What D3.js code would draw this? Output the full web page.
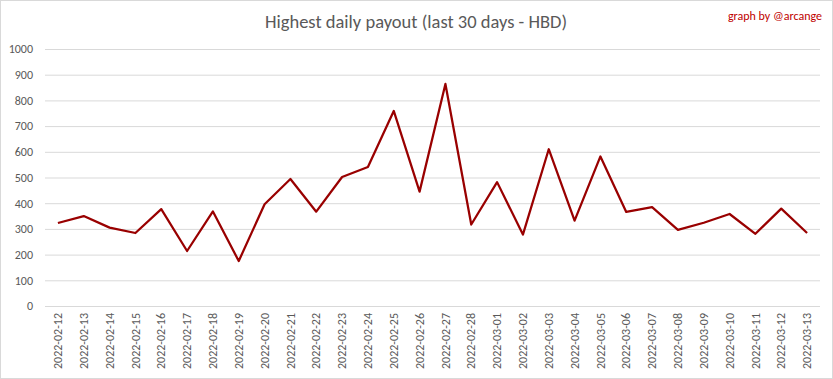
<!DOCTYPE html>
<html><head><meta charset="utf-8">
<script src="https://cdn.jsdelivr.net/npm/d3@7"></script>
<style>body{margin:0;background:#fff;} svg{display:block;}</style>
</head><body>
<script>
const dates = ["2022-02-12","2022-02-13","2022-02-14","2022-02-15","2022-02-16","2022-02-17","2022-02-18","2022-02-19","2022-02-20","2022-02-21","2022-02-22","2022-02-23","2022-02-24","2022-02-25","2022-02-26","2022-02-27","2022-02-28","2022-03-01","2022-03-02","2022-03-03","2022-03-04","2022-03-05","2022-03-06","2022-03-07","2022-03-08","2022-03-09","2022-03-10","2022-03-11","2022-03-12","2022-03-13"];
const payouts = [323,350,305,284,377,214,368,175,396,494,367,502,541,759,445,864,317,482,278,610,332,582,366,385,296,324,358,281,379,284];
const yTicks = [0,100,200,300,400,500,600,700,800,900,1000];

const W = 833, H = 379;
const svg = d3.select("body").append("svg").attr("width", W).attr("height", H);
svg.append("rect").attr("x",0.5).attr("y",0.5).attr("width",W-1).attr("height",H-1)
  .attr("fill","#fff").attr("stroke","#d9d9d9");

const x = d3.scaleBand().domain(dates).range([45, 820]);
const y = d3.scaleLinear().domain([0,1000]).range([306, 49]);
const font = "Calibri, Carlito, Lato, 'Open Sans', sans-serif";

const yAxis = svg.append("g").attr("transform","translate(45,0)")
  .call(d3.axisLeft(y).tickValues(yTicks).tickSize(-775).tickPadding(12).tickFormat(d3.format("d")));
yAxis.select(".domain").remove();
yAxis.selectAll(".tick line").attr("stroke","#d9d9d9").attr("stroke-width",1);
yAxis.selectAll("text").attr("fill","#595959").style("font-family",font).style("font-size","12px");

const xAxis = svg.append("g").attr("transform","translate(0,306)")
  .call(d3.axisBottom(x).tickSize(0).tickPadding(0));
xAxis.select(".domain").remove();
xAxis.selectAll("text").attr("fill","#595959").style("font-family",font).style("font-size","12px")
  .attr("text-anchor","end").attr("transform","rotate(-90)").attr("x",-7).attr("y",0).attr("dy","0.35em");

const line = d3.line().x((d,i)=>x(dates[i])+x.bandwidth()/2).y(d=>y(d));
svg.append("path").datum(payouts).attr("d",line).attr("fill","none")
  .attr("stroke","#990000").attr("stroke-width",2.25).attr("stroke-linejoin","round");

svg.append("text").attr("x",416).attr("y",28).attr("text-anchor","middle")
  .attr("fill","#595959").style("font-family",font).style("font-size","18.5px").style("font-weight","300")
  .text("Highest daily payout (last 30 days - HBD)");
svg.append("text").attr("x",822).attr("y",20).attr("text-anchor","end")
  .attr("fill","#c00000").style("font-family",font).style("font-size","12px")
  .text("graph by @arcange");
</script>
</body></html>
